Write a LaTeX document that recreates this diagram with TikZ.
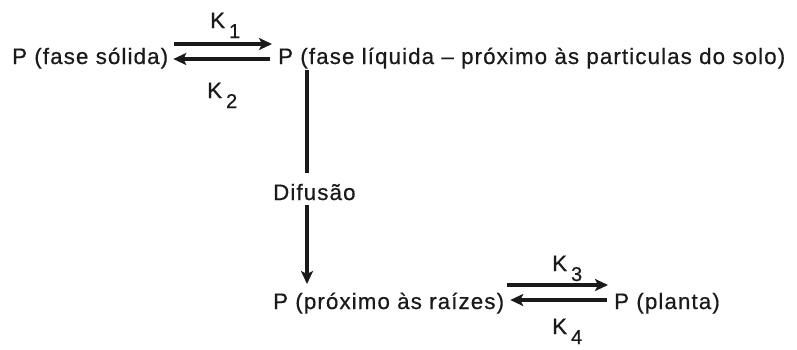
\documentclass[tikz,border=0pt]{standalone}
\usepackage{fontspec}
\setmainfont{Liberation Sans}[LetterSpace=5,FakeBold=0.6]
\usetikzlibrary{arrows.meta}
\definecolor{ink}{HTML}{1A1A1A}
\newcommand\Kx[1]{K\hspace{4pt}\raisebox{-10pt}{\fontsize{20}{22}\selectfont #1}}
\begin{document}
\begin{tikzpicture}[x=1pt,y=-1pt,
  txt/.style={inner sep=0pt,anchor=base west,text=ink,font=\fontsize{22.3}{26}\selectfont},
  ln/.style={draw=ink,line width=3.2pt},
  harp/.style={ln,-{Stealth[length=13pt,width=12pt,inset=3pt]}}]
\useasboundingbox[fill=white] (0,0) rectangle (797,349);
\node[txt] (solid) at (12,64) {P (fase sólida)};
\node[txt] (liquid) at (278,64) {P (fase líquida – próximo às particulas do solo)};
\node[txt] (dif) at (273,200) {Difusão};
\node[txt] (roots) at (273,309) {P (próximo às raízes)};
\node[txt] (plant) at (614,309) {P (planta)};
\node[txt] (k1) at (210,28) {\Kx{1}};
\node[txt] (k2) at (207,98) {\Kx{2}};
\node[txt] (k3) at (552,271) {\Kx{3}};
\node[txt] (k4) at (552,334) {\Kx{4}};
% top equilibrium
\draw[harp] ([shift={(6,-20)}]solid.base east) -- ([shift={(-6,-20)}]liquid.base west);
\draw[harp] ([shift={(-8,-5)}]liquid.base west) -- ([shift={(5,-5)}]solid.base east);
% diffusion
\coordinate (v1) at ([shift={(29,6)}]liquid.base west);
\coordinate (d1) at ([shift={(0,-27)}]dif.base);
\coordinate (d2) at ([shift={(0,5)}]dif.base);
\coordinate (r1) at ([shift={(0,-25)}]roots.base);
\draw[ln] (v1) -- (v1 |- d1);
\draw[harp] (v1 |- d2) -- (v1 |- r1);
% bottom equilibrium
\draw[harp] ([shift={(-107,-24)}]plant.base west) -- ([shift={(-6,-24)}]plant.base west);
\draw[harp] ([shift={(-7,-9)}]plant.base west) -- ([shift={(6,-9)}]roots.base east);
\end{tikzpicture}
\end{document}
